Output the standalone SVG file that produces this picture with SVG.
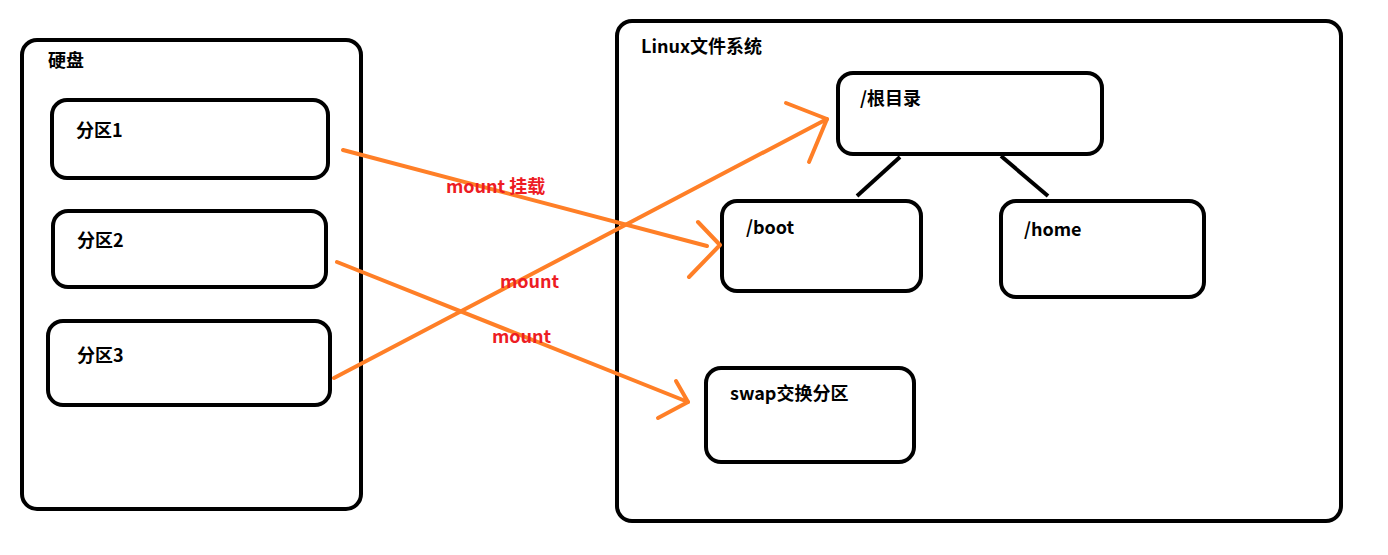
<svg xmlns="http://www.w3.org/2000/svg" width="1388" height="555" viewBox="0 0 1388 555">
<style>
.box{fill:none;stroke:#000;stroke-width:4}
.t{font-family:"Noto Sans CJK SC","Noto Sans",sans-serif;font-weight:bold;font-size:18px;fill:#000}
.r{font-family:"Noto Sans CJK SC","Noto Sans",sans-serif;font-weight:bold;font-size:18px;fill:#ed1c24}
.o{fill:none;stroke:#ff7f27;stroke-width:4;stroke-linecap:round;stroke-linejoin:round}
.k{fill:none;stroke:#000;stroke-width:4}
</style>
<rect width="1388" height="555" fill="#fff"/>
<g id="disk"><rect class="box" x="22" y="40" width="339" height="469" rx="15"/><text class="t" x="48" y="67">硬盘</text></g>
<g id="p1"><rect class="box" x="52" y="100" width="276" height="78" rx="15"/><text class="t" x="76" y="137">分区1</text></g>
<g id="p2"><rect class="box" x="53" y="211" width="273" height="76" rx="15"/><text class="t" x="77" y="247">分区2</text></g>
<g id="p3"><rect class="box" x="48" y="321" width="282" height="84" rx="15"/><text class="t" x="77" y="362">分区3</text></g>
<g id="linux"><rect class="box" x="617" y="21" width="724" height="500" rx="15"/><text class="t" x="641" y="53">Linux文件系统</text></g>
<g id="root"><rect class="box" x="838" y="73" width="264" height="81" rx="15"/><text class="t" x="860" y="105">/根目录</text></g>
<g id="boot"><rect class="box" x="722" y="201" width="199" height="90" rx="15"/><text class="t" x="746" y="234">/boot</text></g>
<g id="home"><rect class="box" x="1001" y="201" width="203" height="96" rx="15"/><text class="t" x="1024" y="236">/home</text></g>
<g id="swap"><rect class="box" x="706" y="368" width="208" height="94" rx="15"/><text class="t" x="730" y="400">swap交换分区</text></g>
<g id="connectors">
<line class="k" x1="900" y1="157" x2="857" y2="196"/>
<line class="k" x1="1001" y1="156" x2="1048" y2="196"/>
<polyline class="o" points="343,150 707,246"/>
<polyline class="o" points="698,222 720,245 689,277"/>
<polyline class="o" points="337,262 688,402"/>
<polyline class="o" points="676,381 688,402 658,418"/>
<polyline class="o" points="334,378 827,119"/>
<polyline class="o" points="786,103 827,119 809,162"/>
<text class="r" x="446" y="193">mount 挂载</text>
<text class="r" x="500" y="288">mount</text>
<text class="r" x="492" y="343">mount</text>
</g>
</svg>
